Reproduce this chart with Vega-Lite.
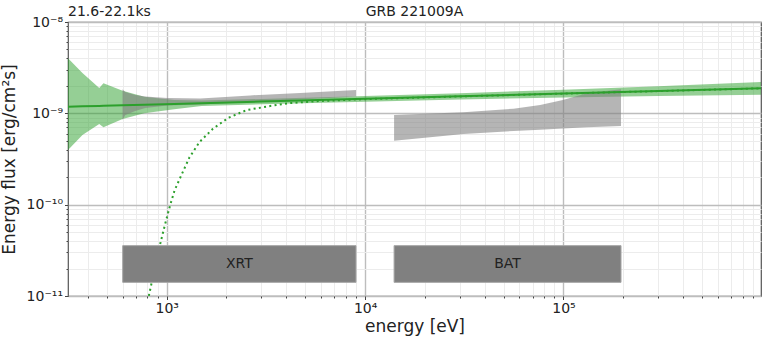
{
  "$schema": "https://vega.github.io/schema/vega-lite/v6.json",
  "width": 693,
  "height": 274,
  "autosize": {"type": "none"},
  "padding": {"left": 68, "top": 22, "right": 2, "bottom": 46},
  "background": "white",
  "config": {
    "font": "DejaVu Sans",
    "view": {"stroke": "#555555", "strokeWidth": 1.2}
  },
  "datasets": {
    "model": [
      {"energy": 318, "flux": 1.181e-9, "lo": 3.967e-10, "hi": 4.003e-9},
      {"energy": 376, "flux": 1.192e-9, "lo": 5.79e-10, "hi": 2.764e-9},
      {"energy": 457, "flux": 1.206e-9, "lo": 7.641e-10, "hi": 1.894e-9},
      {"energy": 480, "flux": 1.209e-9, "lo": 7.031e-10, "hi": 2.132e-9},
      {"energy": 599, "flux": 1.225e-9, "lo": 8.667e-10, "hi": 1.77e-9},
      {"energy": 770, "flux": 1.243e-9, "lo": 1.0016e-9, "hi": 1.521e-9},
      {"energy": 1091, "flux": 1.268e-9, "lo": 1.107e-9, "hi": 1.4e-9},
      {"energy": 1500, "flux": 1.2912e-9, "lo": 1.2034e-9, "hi": 1.3855e-9},
      {"energy": 3000, "flux": 1.344e-9, "lo": 1.2584e-9, "hi": 1.4354e-9},
      {"energy": 10000, "flux": 1.4401e-9, "lo": 1.3421e-9, "hi": 1.5452e-9},
      {"energy": 30000, "flux": 1.5346e-9, "lo": 1.4157e-9, "hi": 1.6635e-9},
      {"energy": 100000, "flux": 1.6444e-9, "lo": 1.4949e-9, "hi": 1.8088e-9},
      {"energy": 300000, "flux": 1.7518e-9, "lo": 1.5516e-9, "hi": 1.9778e-9},
      {"energy": 990000, "flux": 1.877e-9, "lo": 1.6015e-9, "hi": 2.1998e-9}
    ],
    "absorbed": [
      {"energy": 802, "flux": 8.81e-12},
      {"energy": 842, "flux": 1.434e-11},
      {"energy": 885, "flux": 2.344e-11},
      {"energy": 927, "flux": 3.71e-11},
      {"energy": 979, "flux": 5.99e-11},
      {"energy": 1038, "flux": 9.67e-11},
      {"energy": 1095, "flux": 1.429e-10},
      {"energy": 1188, "flux": 2.128e-10},
      {"energy": 1303, "flux": 3.301e-10},
      {"energy": 1463, "flux": 4.853e-10},
      {"energy": 1710, "flux": 6.788e-10},
      {"energy": 2049, "flux": 8.959e-10},
      {"energy": 2537, "flux": 1.0877e-9},
      {"energy": 3324, "flux": 1.203e-9},
      {"energy": 4193, "flux": 1.297e-9},
      {"energy": 5937, "flux": 1.3646e-9},
      {"energy": 10000, "flux": 1.43e-9},
      {"energy": 30000, "flux": 1.531e-9},
      {"energy": 100000, "flux": 1.644e-9},
      {"energy": 990000, "flux": 1.877e-9}
    ],
    "xrt": [
      {"energy": 599, "lo": 8.452e-10, "hi": 1.833e-9},
      {"energy": 618, "lo": 9.587e-10, "hi": 1.713e-9},
      {"energy": 694, "lo": 1.0605e-9, "hi": 1.587e-9},
      {"energy": 779, "lo": 1.144e-9, "hi": 1.529e-9},
      {"energy": 1006, "lo": 1.218e-9, "hi": 1.472e-9},
      {"energy": 1476, "lo": 1.249e-9, "hi": 1.4535e-9},
      {"energy": 2636, "lo": 1.334e-9, "hi": 1.5715e-9},
      {"energy": 4710, "lo": 1.4207e-9, "hi": 1.6743e-9},
      {"energy": 9000, "lo": 1.529e-9, "hi": 1.8007e-9}
    ],
    "bat": [
      {"energy": 14000, "lo": 5.015e-10, "hi": 9.587e-10},
      {"energy": 31330, "lo": 5.939e-10, "hi": 1.0263e-9},
      {"energy": 55980, "lo": 6.405e-10, "hi": 1.124e-9},
      {"energy": 76290, "lo": 6.602e-10, "hi": 1.234e-9},
      {"energy": 99310, "lo": 6.822e-10, "hi": 1.3996e-9},
      {"energy": 131230, "lo": 7.031e-10, "hi": 1.6574e-9},
      {"energy": 195000, "lo": 7.266e-10, "hi": 1.833e-9}
    ],
    "instruments": [
      {"name": "XRT", "e0": 600, "e1": 9000, "ec": 2324, "f0": 1.41e-11, "f1": 3.56e-11, "fc": 2.24e-11},
      {"name": "BAT", "e0": 14000, "e1": 195000, "ec": 52250, "f0": 1.41e-11, "f1": 3.56e-11, "fc": 2.24e-11}
    ],
    "epoch": [
      {"label": "21.6-22.1ks", "energy": 318, "flux": 1e-8}
    ],
    "heading": [
      {"label": "GRB 221009A", "energy": 17740, "flux": 1e-8}
    ]
  },
  "layer": [
    {
      "data": {"name": "model"},
      "mark": {"type": "area", "color": "#2ca02c", "opacity": 0.5},
      "encoding": {
        "x": {
          "field": "energy",
          "type": "quantitative",
          "scale": {"type": "log", "domain": [318, 990000], "nice": false},
          "axis": {
            "title": "energy [eV]",
            "values": [400, 500, 600, 700, 800, 900, 1000, 2000, 3000, 4000, 5000, 6000, 7000, 8000, 9000, 10000, 20000, 30000, 40000, 50000, 60000, 70000, 80000, 90000, 100000, 200000, 300000, 400000, 500000, 600000, 700000, 800000, 900000],
            "labelExpr": "datum.value == 1000 ? '10³' : datum.value == 10000 ? '10⁴' : datum.value == 100000 ? '10⁵' : ''",
            "labelOverlap": false,
            "labelFlush": false,
            "labelFontSize": 14,
            "labelColor": "#222222",
            "labelPadding": 2,
            "titleFontSize": 17,
            "titleFontWeight": "normal",
            "titleColor": "#222222",
            "titlePadding": 3,
            "domain": false,
            "tickColor": "#444444",
            "tickWidth": 1,
            "tickSize": {"condition": {"test": "abs(log(datum.value)/LN10 - round(log(datum.value)/LN10)) < 0.001", "value": 3.5}, "value": 2},
            "gridColor": {"condition": {"test": "abs(log(datum.value)/LN10 - round(log(datum.value)/LN10)) < 0.001", "value": "#bdbdbd"}, "value": "#ececec"},
            "gridWidth": {"condition": {"test": "abs(log(datum.value)/LN10 - round(log(datum.value)/LN10)) < 0.001", "value": 1.4}, "value": 1}
          }
        },
        "y": {
          "field": "lo",
          "type": "quantitative",
          "scale": {"type": "log", "domain": [1e-11, 1e-8], "nice": false},
          "axis": {
            "title": "Energy flux [erg/cm²s]",
            "values": [1e-11, 2e-11, 3e-11, 4e-11, 5e-11, 6e-11, 7e-11, 8e-11, 9e-11, 1e-10, 2e-10, 3e-10, 4e-10, 5e-10, 6e-10, 7e-10, 8e-10, 9e-10, 1e-9, 2e-9, 3e-9, 4e-9, 5e-9, 6e-9, 7e-9, 8e-9, 9e-9, 1e-8],
            "labelExpr": "datum.value == 1e-8 ? '10⁻⁸' : datum.value == 1e-9 ? '10⁻⁹' : datum.value == 1e-10 ? '10⁻¹⁰' : datum.value == 1e-11 ? '10⁻¹¹' : ''",
            "labelOverlap": false,
            "labelFlush": false,
            "labelFontSize": 14,
            "labelColor": "#222222",
            "labelPadding": 2,
            "titleFontSize": 17,
            "titleFontWeight": "normal",
            "titleColor": "#222222",
            "titleAngle": 270,
            "titleAlign": "center",
            "titleBaseline": "alphabetic",
            "titleX": -54,
            "titleY": 137,
            "domain": false,
            "tickColor": "#444444",
            "tickWidth": 1,
            "tickSize": {"condition": {"test": "abs(log(datum.value)/LN10 - round(log(datum.value)/LN10)) < 0.001", "value": 3.5}, "value": 2},
            "gridColor": {"condition": {"test": "abs(log(datum.value)/LN10 - round(log(datum.value)/LN10)) < 0.001", "value": "#bdbdbd"}, "value": "#ececec"},
            "gridWidth": {"condition": {"test": "abs(log(datum.value)/LN10 - round(log(datum.value)/LN10)) < 0.001", "value": 1.4}, "value": 1}
          }
        },
        "y2": {"field": "hi"}
      }
    },
    {
      "data": {"name": "xrt"},
      "mark": {"type": "area", "color": "#808080", "opacity": 0.58},
      "encoding": {
        "x": {"field": "energy", "type": "quantitative"},
        "y": {"field": "lo", "type": "quantitative"},
        "y2": {"field": "hi"}
      }
    },
    {
      "data": {"name": "bat"},
      "mark": {"type": "area", "color": "#808080", "opacity": 0.58},
      "encoding": {
        "x": {"field": "energy", "type": "quantitative"},
        "y": {"field": "lo", "type": "quantitative"},
        "y2": {"field": "hi"}
      }
    },
    {
      "data": {"name": "model"},
      "mark": {"type": "line", "color": "#2ca02c", "strokeWidth": 2},
      "encoding": {
        "x": {"field": "energy", "type": "quantitative"},
        "y": {"field": "flux", "type": "quantitative"}
      }
    },
    {
      "data": {"name": "absorbed"},
      "mark": {"type": "line", "color": "#2ca02c", "strokeWidth": 2, "strokeDash": [2, 3.3], "clip": true},
      "encoding": {
        "x": {"field": "energy", "type": "quantitative"},
        "y": {"field": "flux", "type": "quantitative"}
      }
    },
    {
      "data": {"name": "instruments"},
      "mark": {"type": "rect", "color": "#808080", "stroke": "#a6a6a6", "strokeWidth": 1},
      "encoding": {
        "x": {"field": "e0", "type": "quantitative"},
        "x2": {"field": "e1"},
        "y": {"field": "f0", "type": "quantitative"},
        "y2": {"field": "f1"}
      }
    },
    {
      "data": {"name": "instruments"},
      "mark": {"type": "text", "fontSize": 14, "color": "#222222", "align": "center", "baseline": "middle"},
      "encoding": {
        "x": {"field": "ec", "type": "quantitative"},
        "y": {"field": "fc", "type": "quantitative"},
        "text": {"field": "name"}
      }
    },
    {
      "data": {"name": "epoch"},
      "mark": {"type": "text", "fontSize": 14, "color": "#222222", "align": "left", "baseline": "alphabetic", "dy": -6},
      "encoding": {
        "x": {"field": "energy", "type": "quantitative"},
        "y": {"field": "flux", "type": "quantitative"},
        "text": {"field": "label"}
      }
    },
    {
      "data": {"name": "heading"},
      "mark": {"type": "text", "fontSize": 14, "color": "#222222", "align": "center", "baseline": "alphabetic", "dy": -6},
      "encoding": {
        "x": {"field": "energy", "type": "quantitative"},
        "y": {"field": "flux", "type": "quantitative"},
        "text": {"field": "label"}
      }
    }
  ]
}
